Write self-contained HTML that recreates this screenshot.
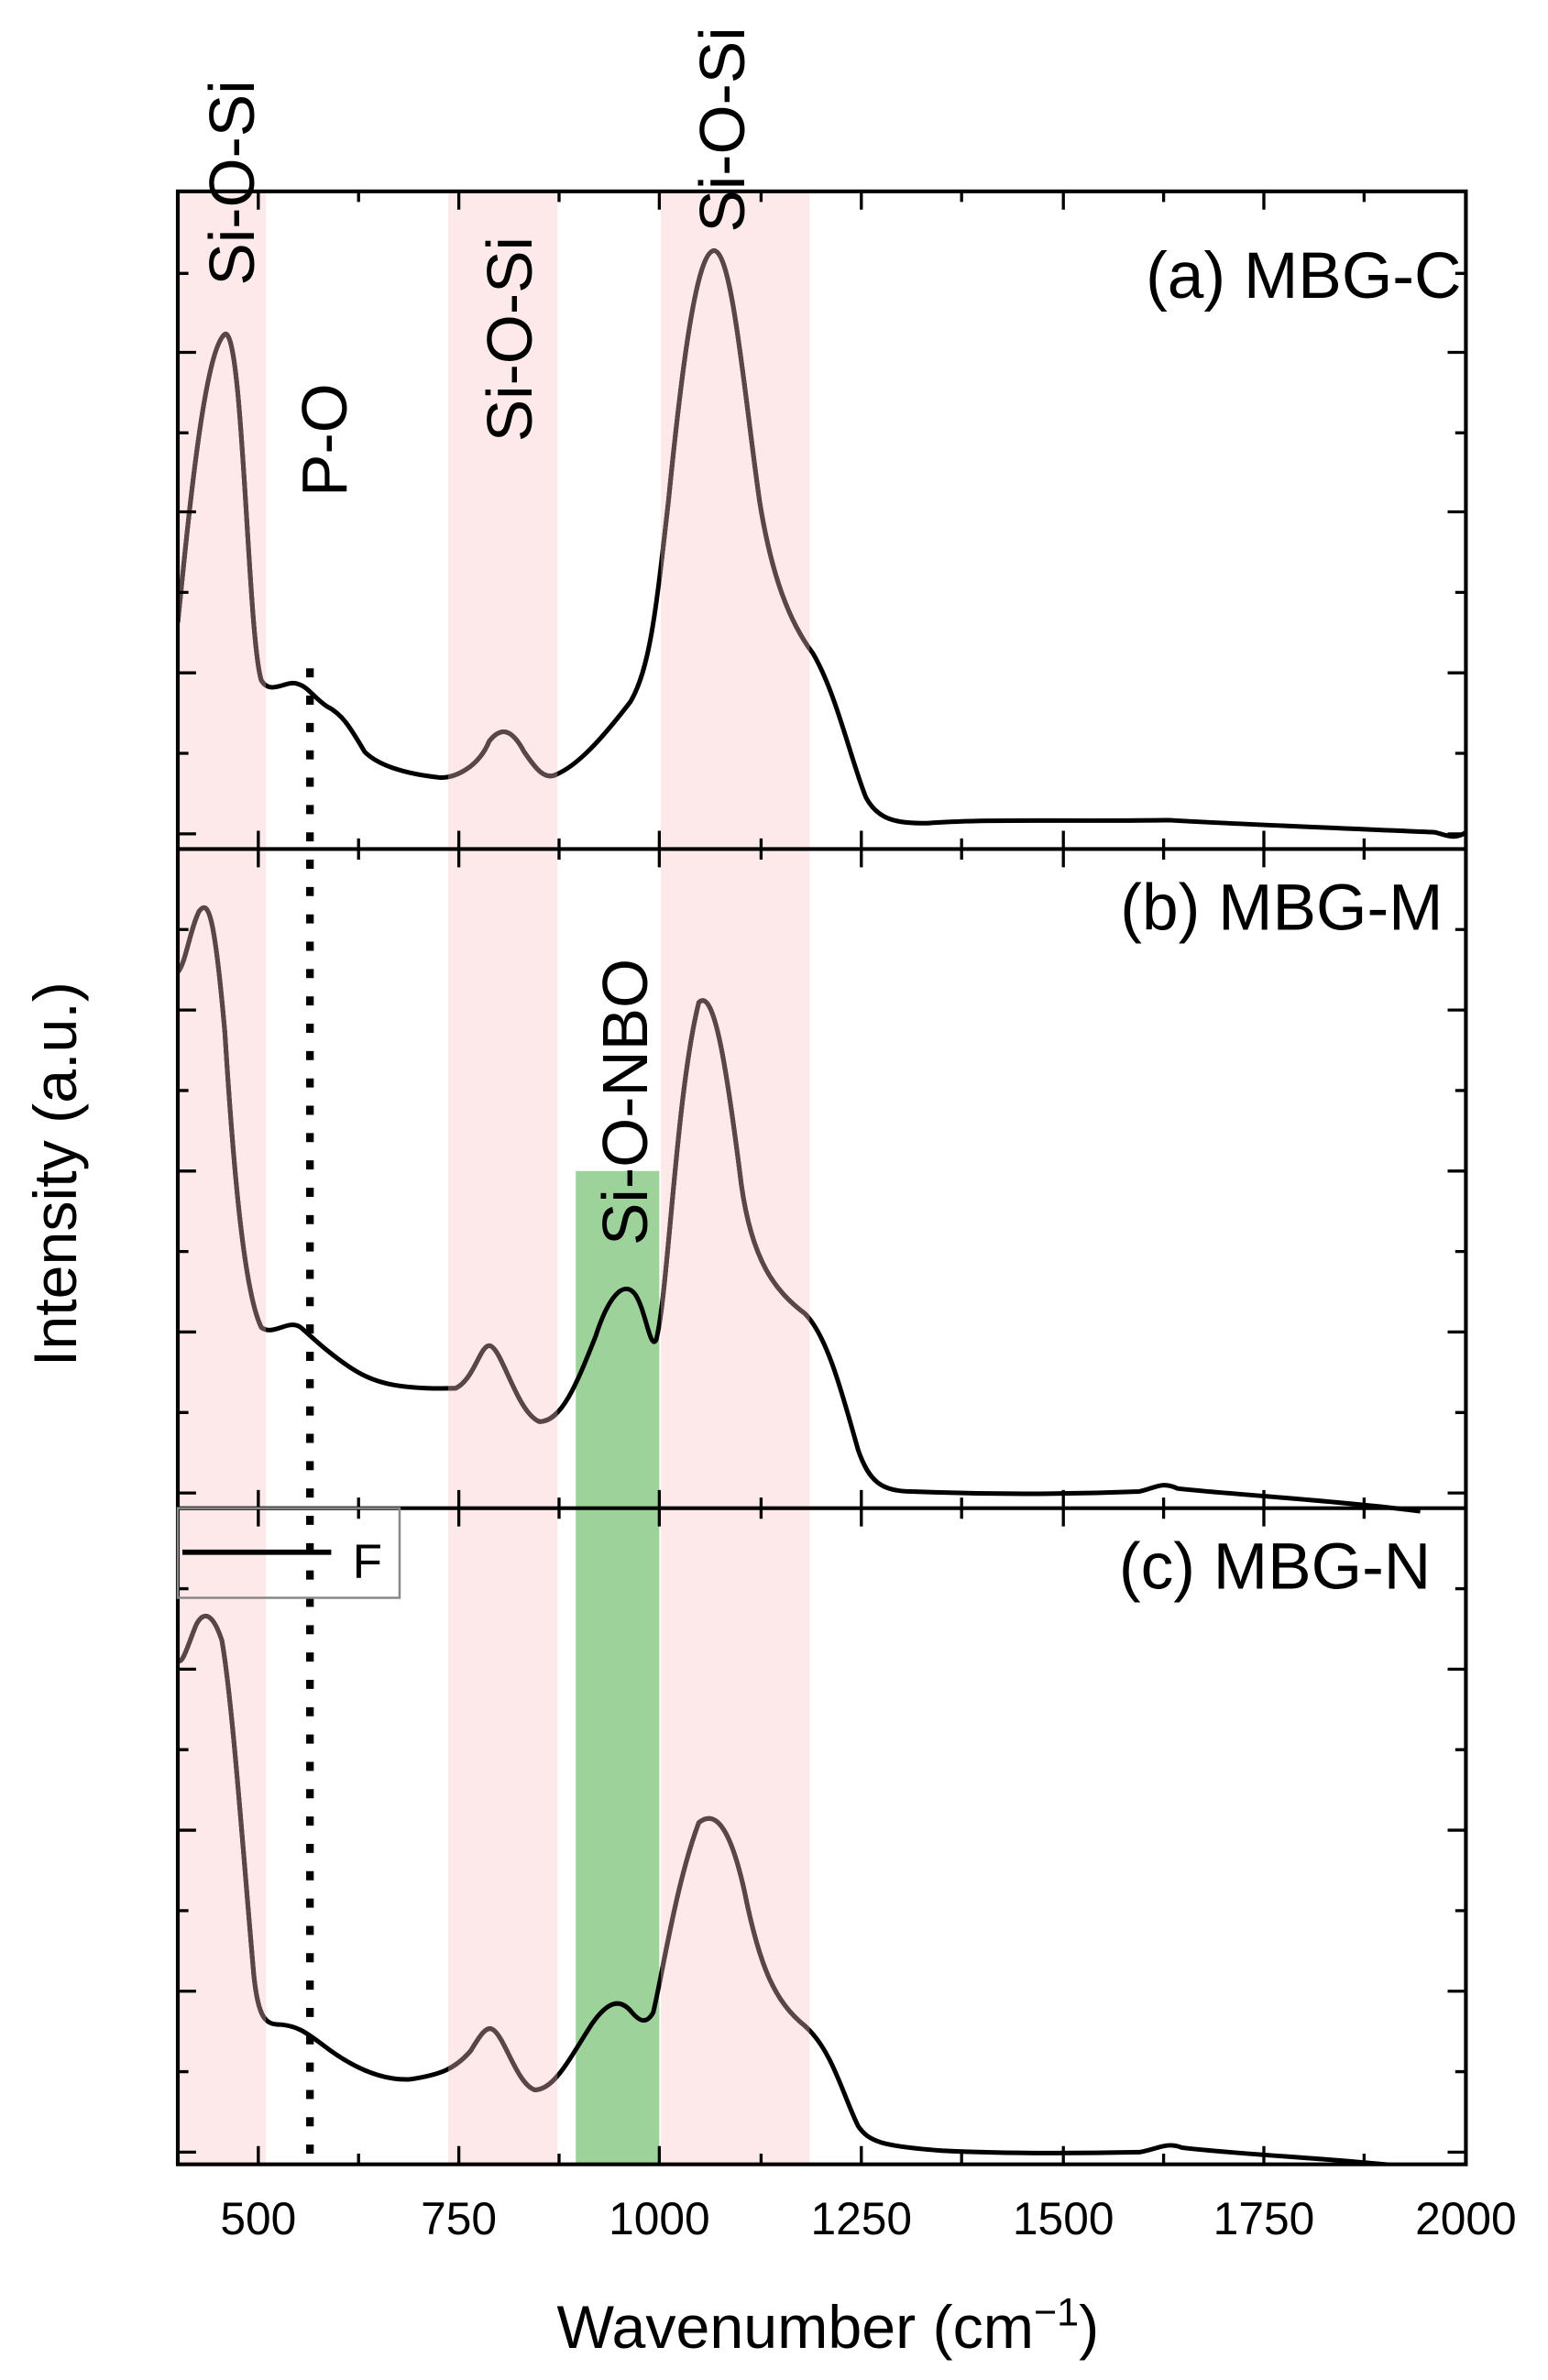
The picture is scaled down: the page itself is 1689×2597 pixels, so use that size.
<!DOCTYPE html>
<html><head><meta charset="utf-8"><style>html,body{margin:0;padding:0;background:#fff}svg{display:block}</style></head>
<body>
<svg xmlns="http://www.w3.org/2000/svg" width="1689" height="2597" viewBox="0 0 1019 1567" font-family="Liberation Sans, sans-serif">
<defs>
<clipPath id="pink"><rect x="117" y="126" width="58" height="1299"/><rect x="295" y="126" width="72" height="1299"/><rect x="435" y="126" width="98" height="1299"/></clipPath>
<clipPath id="plot"><rect x="117" y="126" width="848" height="1299"/></clipPath>
<path id="ca" d="M117,410 C125,330 135,230 148,220 C160,215 163,420 172,448 C178,458 188,448 195,450 C203,452 205,458 215,465 C225,470 230,478 240,495 C250,505 270,510 290,512 C300,512 315,505 322,488 C330,478 337,480 345,495 C352,505 358,514 366,510 C380,504 395,488 415,462 C428,440 432,400 440,330 C448,250 458,165 470,165 C482,165 490,260 500,330 C508,380 520,410 535,430 C550,455 560,500 570,525 C578,540 590,542 610,542 C650,539 700,541 770,540 C800,542 900,546 945,548 C952,550 958,553 965,548"/>
<path id="cb" d="M117,640 C122,635 125,612 131,600 C137,592 141,600 148,680 C153,760 160,850 172,874 C180,880 190,868 198,874 C205,880 215,890 230,900 C245,910 260,915 300,914 C312,908 316,886 322,886 C330,886 340,930 355,936 C370,936 380,910 392,880 C400,855 410,842 418,852 C425,862 428,890 432,882 C440,850 445,720 460,660 C470,650 478,700 488,780 C495,830 510,850 530,865 C545,880 555,920 565,955 C572,975 580,982 600,982 C650,984 700,984 750,982 C760,980 765,975 775,980 C800,983 880,988 935,995"/>
<path id="cc" d="M117,1093 C120,1097 124,1082 129,1070 C134,1060 140,1062 146,1080 C153,1120 160,1220 167,1300 C170,1330 175,1333 185,1333 C195,1334 200,1337 212,1346 C230,1360 250,1370 270,1369 C290,1366 300,1362 310,1350 C316,1340 320,1334 324,1336 C332,1340 340,1372 352,1376 C365,1376 375,1355 390,1332 C400,1318 408,1315 416,1325 C422,1332 426,1332 430,1325 C436,1300 445,1240 460,1200 C470,1192 480,1200 490,1245 C500,1295 510,1318 530,1334 C548,1350 555,1380 565,1400 C572,1410 580,1413 620,1416 C660,1418 700,1418 750,1417 C762,1415 768,1410 778,1414 C820,1419 880,1421 940,1428"/>
</defs>
<rect width="1019" height="1567" fill="#fff"/>
<g fill="#fde9e9">
<rect x="117" y="126" width="58" height="1299"/>
<rect x="295" y="126" width="72" height="1299"/>
<rect x="435" y="126" width="98" height="1299"/>
</g>
<rect x="379" y="771" width="55" height="654" fill="#9dd39b"/>
<line x1="204" y1="440" x2="204" y2="1425" stroke="#000" stroke-width="5" stroke-dasharray="6,12"/>
<g fill="none" stroke="#000" stroke-width="3" stroke-linejoin="round" clip-path="url(#plot)">
<use href="#ca"/><use href="#cb"/><use href="#cc"/>
</g>
<g fill="none" stroke="#5a4646" stroke-width="3" stroke-linejoin="round" clip-path="url(#pink)">
<use href="#ca"/><use href="#cb"/><use href="#cc"/>
</g>
<g stroke="#000" stroke-width="2.5" fill="none">
<rect x="117" y="126" width="848" height="1299"/>
<line x1="117" y1="559" x2="965" y2="559"/>
<line x1="117" y1="993" x2="965" y2="993"/>
</g>
<g stroke="#000" stroke-width="2">
<path d="M170,126v12M302,126v12M434,126v12M567,126v12M700,126v12M832,126v12M236,126v7M368,126v7M501,126v7M633,126v7M766,126v7M898,126v7"/>
<path d="M170,559v-12M302,559v-12M434,559v-12M567,559v-12M700,559v-12M832,559v-12M236,559v-7M368,559v-7M501,559v-7M633,559v-7M766,559v-7M898,559v-7"/>
<path d="M170,559v12M302,559v12M434,559v12M567,559v12M700,559v12M832,559v12M236,559v7M368,559v7M501,559v7M633,559v7M766,559v7M898,559v7"/>
<path d="M170,993v-12M302,993v-12M434,993v-12M567,993v-12M700,993v-12M832,993v-12M236,993v-7M368,993v-7M501,993v-7M633,993v-7M766,993v-7M898,993v-7"/>
<path d="M170,993v12M302,993v12M434,993v12M567,993v12M700,993v12M832,993v12M236,993v7M368,993v7M501,993v7M633,993v7M766,993v7M898,993v7"/>
<path d="M170,1425v-12M302,1425v-12M434,1425v-12M567,1425v-12M700,1425v-12M832,1425v-12M236,1425v-7M368,1425v-7M501,1425v-7M633,1425v-7M766,1425v-7M898,1425v-7"/>
<path d="M117,180h7M117,232h12M117,285h7M117,337h12M117,390h7M117,443h12M117,496h7M117,549h12
M117,612h7M117,665h12M117,718h7M117,771h12M117,824h7M117,877h12M117,930h7M117,983h12
M117,1046h7M117,1099h12M117,1152h7M117,1205h12M117,1258h7M117,1311h12M117,1364h7M117,1417h12"/>
<path d="M965,180h-7M965,232h-12M965,285h-7M965,337h-12M965,390h-7M965,443h-12M965,496h-7M965,549h-12
M965,612h-7M965,665h-12M965,718h-7M965,771h-12M965,824h-7M965,877h-12M965,930h-7M965,983h-12
M965,1046h-7M965,1099h-12M965,1152h-7M965,1205h-12M965,1258h-7M965,1311h-12M965,1364h-7M965,1417h-12"/>
</g>
<rect x="117" y="993" width="146" height="59" fill="none" stroke="#888" stroke-width="1.5"/>
<line x1="120" y1="1022" x2="218" y2="1022" stroke="#000" stroke-width="3.5"/>
<text x="232" y="1039" font-size="32">F</text>
<g font-size="30" text-anchor="middle" fill="#000">
<text x="170" y="1471">500</text><text x="302" y="1471">750</text><text x="434" y="1471">1000</text><text x="567" y="1471">1250</text><text x="700" y="1471">1500</text><text x="832" y="1471">1750</text><text x="965" y="1471">2000</text>
</g>
<text x="545" y="1546" font-size="40" text-anchor="middle">Wavenumber (cm<tspan dy="-15" font-size="26">−1</tspan><tspan dy="15">)</tspan></text>
<text transform="translate(50,773) rotate(-90)" font-size="40" text-anchor="middle">Intensity (a.u.)</text>
<g font-size="43" text-anchor="end">
<text x="962" y="196">(a) MBG-C</text>
<text x="950" y="612">(b) MBG-M</text>
<text x="942" y="1046">(c) MBG-N</text>
</g>
<g font-size="42">
<text transform="translate(167,188) rotate(-90)">Si-O-Si</text>
<text transform="translate(228,327) rotate(-90)">P-O</text>
<text transform="translate(350,291) rotate(-90)">Si-O-Si</text>
<text transform="translate(490,153) rotate(-90)">Si-O-Si</text>
<text transform="translate(426,820) rotate(-90)">Si-O-NBO</text>
</g>
</svg>
</body></html>
